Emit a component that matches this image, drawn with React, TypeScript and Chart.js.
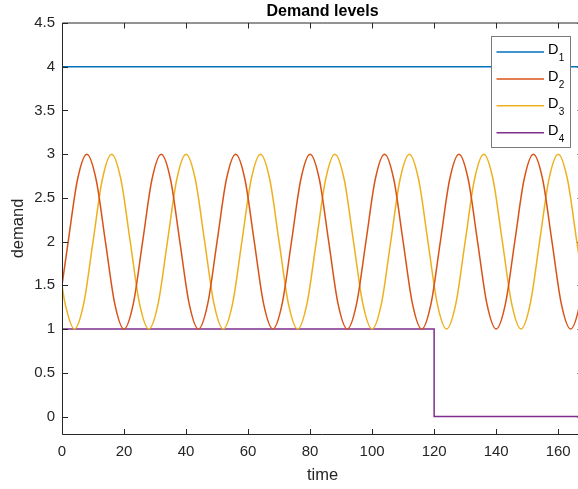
import { useEffect, useRef } from "react";
import { Chart, registerables } from "chart.js";

Chart.register(...registerables);

// ---- data ----
const chartTitle = "Demand levels";
const xLabel = "time";
const yLabel = "demand";
const seriesSubscripts = ["1", "2", "3", "4"];
const seriesColors = ["#0072BD", "#D95319", "#EDB120", "#7E2F8E"];

const d1Time = [0, 170];
const d1Values = [4, 4];

const d2Time = [
  0, 2, 5, 8, 11, 14, 17, 20, 23, 26, 29, 32, 35, 38, 41, 44, 47, 50, 53, 56, 59, 62, 65, 68, 71,
  74, 77, 80, 83, 86, 89, 92, 95, 98, 101, 104, 107, 110, 113, 116, 119, 122, 125, 128, 131, 134,
  137, 140, 143, 146, 149, 152, 155, 158, 161, 164, 167, 170,
];
const d2Values = [
  1.5,
  2, 2.71, 3, 2.71, 2, 1.29, 1, 1.29,
  2, 2.71, 3, 2.71, 2, 1.29, 1, 1.29,
  2, 2.71, 3, 2.71, 2, 1.29, 1, 1.29,
  2, 2.71, 3, 2.71, 2, 1.29, 1, 1.29,
  2, 2.71, 3, 2.71, 2, 1.29, 1, 1.29,
  2, 2.71, 3, 2.71, 2, 1.29, 1, 1.29,
  2, 2.71, 3, 2.71, 2, 1.29, 1, 1.29,
  2,
];

const d3Time = [
  0, 1, 4, 7, 10, 13, 16, 19, 22, 25, 28, 31, 34, 37, 40, 43, 46, 49, 52, 55, 58, 61, 64, 67, 70,
  73, 76, 79, 82, 85, 88, 91, 94, 97, 100, 103, 106, 109, 112, 115, 118, 121, 124, 127, 130, 133,
  136, 139, 142, 145, 148, 151, 154, 157, 160, 163, 166, 169,
];
const d3Values = [
  1.5,
  1.29, 1, 1.29, 2, 2.71, 3, 2.71, 2,
  1.29, 1, 1.29, 2, 2.71, 3, 2.71, 2,
  1.29, 1, 1.29, 2, 2.71, 3, 2.71, 2,
  1.29, 1, 1.29, 2, 2.71, 3, 2.71, 2,
  1.29, 1, 1.29, 2, 2.71, 3, 2.71, 2,
  1.29, 1, 1.29, 2, 2.71, 3, 2.71, 2,
  1.29, 1, 1.29, 2, 2.71, 3, 2.71, 2,
  1.29,
];

const d4Time = [0, 120, 120, 170];
const d4Values = [1, 1, 0, 0];

const xMin = 0;
const xMax = 168;
const xStep = 20;
const yMin = -0.2;
const yMax = 4.5;
const yStep = 0.5;

const FONT = "'Liberation Sans', Arial, Helvetica, sans-serif";
const AXIS = "#262626";

const toPoints = (xs: number[], ys: number[]) => xs.map((x, i) => ({ x, y: ys[i] }));
const fmt = (v: any) => String(Math.round(Number(v) * 100) / 100);

const framePlugin = {
  id: "matlabFrame",
  afterDraw(chart: any) {
    const { ctx, chartArea: a, scales } = chart;
    const xs = scales.x;
    const ys = scales.y;
    const L = Math.round(a.left) + 0.5;
    const B = Math.round(a.bottom) + 0.5;
    const T = a.top;
    const R = a.right;
    const tick = 5.5;
    ctx.save();
    ctx.strokeStyle = AXIS;
    ctx.lineWidth = 1;
    ctx.beginPath();
    ctx.moveTo(L, T);
    ctx.lineTo(R, T);
    ctx.moveTo(R, T);
    ctx.lineTo(R, B);
    ctx.stroke();
    ctx.beginPath();
    ctx.moveTo(L, T);
    ctx.lineTo(L, B);
    ctx.lineTo(R, B);
    ctx.stroke();
    ctx.beginPath();
    xs.ticks.forEach((t: any) => {
      const p = Math.round(xs.getPixelForValue(t.value)) + 0.5;
      ctx.moveTo(p, B);
      ctx.lineTo(p, B - tick);
      ctx.moveTo(p, T);
      ctx.lineTo(p, T + tick);
    });
    ys.ticks.forEach((t: any) => {
      const p = Math.round(ys.getPixelForValue(t.value)) + 0.5;
      ctx.moveTo(L, p);
      ctx.lineTo(L + tick, p);
      ctx.moveTo(R, p);
      ctx.lineTo(R - tick, p);
    });
    ctx.stroke();

    // title
    ctx.fillStyle = "#000";
    ctx.font = `bold 16px ${FONT}`;
    ctx.textAlign = "center";
    ctx.textBaseline = "alphabetic";
    ctx.fillText(chartTitle, (a.left + a.right) / 2, 15.5);

    // legend
    const bw = 79;
    const bh = 111;
    const bx = Math.round(a.right - 13 - bw) + 0.5;
    const by = Math.round(a.top + 13) + 0.5;
    ctx.fillStyle = "#fff";
    ctx.fillRect(bx, by, bw, bh);
    ctx.strokeStyle = "#7a7a7a";
    ctx.lineWidth = 1;
    ctx.strokeRect(bx, by, bw, bh);
    chart.data.datasets.forEach((ds: any, i: number) => {
      const ly = by + 15.5 + i * 26.9;
      ctx.strokeStyle = ds.borderColor;
      ctx.lineWidth = 1.5;
      ctx.beginPath();
      ctx.moveTo(bx + 5, ly);
      ctx.lineTo(bx + 52.5, ly);
      ctx.stroke();
      ctx.fillStyle = "#000";
      ctx.textAlign = "left";
      ctx.font = `14.5px ${FONT}`;
      const tx = bx + 56.5;
      ctx.fillText("D", tx, ly + 1.8);
      const w = ctx.measureText("D").width;
      ctx.font = `10px ${FONT}`;
      ctx.fillText(seriesSubscripts[i], tx + w + 0.3, ly + 9.3);
    });
    ctx.restore();
  },
};

export default function App() {
  const ref = useRef<HTMLCanvasElement | null>(null);

  useEffect(() => {
    if (!ref.current) return;
    const series = [
      toPoints(d1Time, d1Values),
      toPoints(d2Time, d2Values),
      toPoints(d3Time, d3Values),
      toPoints(d4Time, d4Values),
    ];
    const chart = new Chart(ref.current, {
      type: "line",
      data: {
        datasets: series.map((data, i) => ({
          label: "D" + seriesSubscripts[i],
          data,
          borderColor: seriesColors[i],
          backgroundColor: seriesColors[i],
          borderWidth: 1.5,
          pointRadius: 0,
          fill: false,
          cubicInterpolationMode: i === 1 || i === 2 ? "monotone" : "default",
          tension: 0,
        })),
      },
      options: {
        animation: false,
        responsive: false,
        maintainAspectRatio: false,
        parsing: true,
        layout: { padding: { left: 0, top: 23, right: 17, bottom: 0 } },
        plugins: {
          legend: { display: false },
          tooltip: { enabled: false },
          title: { display: false },
        },
        scales: {
          x: {
            type: "linear",
            min: xMin,
            max: xMax,
            grid: { display: false, drawTicks: false },
            border: { display: false },
            ticks: {
              stepSize: xStep,
              includeBounds: false,
              autoSkip: false,
              maxRotation: 0,
              padding: 9,
              color: AXIS,
              font: { family: FONT, size: 15 },
              callback: fmt,
            },
            title: {
              display: true,
              text: xLabel,
              color: AXIS,
              font: { family: FONT, size: 16.5 },
              padding: { top: 0, bottom: 3.5 },
            },
            afterFit: (s: any) => {
              s.height = 55;
            },
          },
          y: {
            type: "linear",
            min: yMin,
            max: yMax,
            grid: { display: false, drawTicks: false },
            border: { display: false },
            ticks: {
              stepSize: yStep,
              includeBounds: false,
              autoSkip: false,
              padding: 7,
              color: AXIS,
              font: { family: FONT, size: 15 },
              callback: fmt,
            },
            title: {
              display: true,
              text: yLabel,
              color: AXIS,
              font: { family: FONT, size: 16.5 },
              padding: { top: 9, bottom: 0 },
            },
            afterFit: (s: any) => {
              s.width = 62;
            },
          },
        },
      },
      plugins: [framePlugin],
    } as any);
    return () => chart.destroy();
  }, []);

  return (
    <div style={{ position: "fixed", left: 0, top: 0, width: 600, height: 489, background: "#fff" }}>
      <canvas ref={ref} width={600} height={489} style={{ width: 600, height: 489, display: "block" }} />
    </div>
  );
}
